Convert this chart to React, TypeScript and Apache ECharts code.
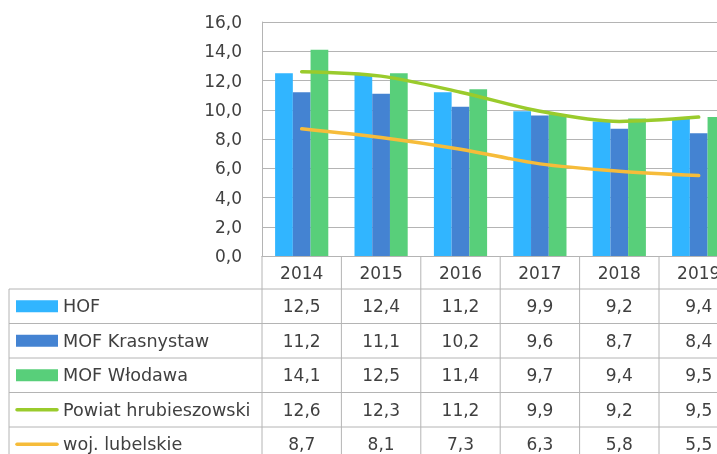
import React, { useEffect, useRef } from "react";
import * as echarts from "echarts";

const years = ["2014", "2015", "2016", "2017", "2018", "2019"];
const hof = [12.5, 12.4, 11.2, 9.9, 9.2, 9.4];
const mofKrasnystaw = [11.2, 11.1, 10.2, 9.6, 8.7, 8.4];
const mofWlodawa = [14.1, 12.5, 11.4, 9.7, 9.4, 9.5];
const powiatHrubieszowski = [12.6, 12.3, 11.2, 9.9, 9.2, 9.5];
const wojLubelskie = [8.7, 8.1, 7.3, 6.3, 5.8, 5.5];

const seriesNames = ["HOF", "MOF Krasnystaw", "MOF Włodawa", "Powiat hrubieszowski", "woj. lubelskie"];
const seriesData = [hof, mofKrasnystaw, mofWlodawa, powiatHrubieszowski, wojLubelskie];
const seriesKinds = ["bar", "bar", "bar", "line", "line"];
const colors = ["#31B5FF", "#4483D2", "#58CF7A", "#9ACB2C", "#F6BC3A"];

const FONT = "DejaVu Sans";
const TEXT = "#404040";
const GRID_C = "#B4B4B4";

const fmt = (v: number) => v.toFixed(1).replace(".", ",");

export default function App() {
  const ref = useRef<HTMLDivElement>(null);
  useEffect(() => {
    if (!ref.current) return;
    const chart = echarts.init(ref.current, null, { renderer: "svg" });
    const gridTop = 22;
    const gridH = 234;
    const gridLeft = 262;
    const catW = 79.4;
    chart.setOption({
      animation: false,
      grid: { left: gridLeft, top: gridTop, width: catW * years.length, height: gridH, containLabel: false },
      xAxis: {
        type: "category",
        data: years,
        axisLine: { show: true, lineStyle: { color: GRID_C, width: 1 } },
        axisTick: { show: false },
        axisLabel: { color: TEXT, fontFamily: FONT, fontSize: 17, margin: 8 },
      },
      yAxis: {
        type: "value",
        min: 0,
        max: 16,
        interval: 2,
        axisLine: { show: true, lineStyle: { color: GRID_C, width: 1 } },
        axisTick: { show: false },
        axisLabel: { color: TEXT, fontFamily: FONT, fontSize: 17, margin: 20, formatter: (v: number) => fmt(v) },
        splitLine: { show: true, lineStyle: { color: GRID_C, width: 1 } },
      },
      series: seriesNames.map((name, i) =>
        seriesKinds[i] === "bar"
          ? {
              name,
              type: "bar",
              data: seriesData[i],
              barGap: "0%",
              barCategoryGap: "33%",
              itemStyle: { color: colors[i] },
            }
          : {
              name,
              type: "line",
              data: seriesData[i],
              smooth: 0.3,
              showSymbol: false,
              lineStyle: { color: colors[i], width: 3.5, cap: "round" },
              itemStyle: { color: colors[i] },
              z: 5,
            }
      ),
    });

    // Data table below the chart
    const centers = years.map((_, i) => chart.convertToPixel({ xAxisIndex: 0 }, i) as number);
    const half = (centers[1] - centers[0]) / 2;
    const bounds = [centers[0] - half, ...centers.map((c) => c + half)];
    const axisY = chart.convertToPixel({ yAxisIndex: 0 }, 0) as number;
    const headerBottom = axisY + 33;
    const rowH = 34.5;
    const bottom = 460;
    const rightEdge = 800;
    const tableLeft = 9;
    const lineStyle = { stroke: GRID_C, lineWidth: 1 };
    const g: any[] = [];
    for (let r = 0; r <= seriesNames.length; r++) {
      const y = headerBottom + r * rowH;
      g.push({ type: "line", shape: { x1: tableLeft, y1: y, x2: rightEdge, y2: y }, style: lineStyle, silent: true });
    }
    g.push({ type: "line", shape: { x1: tableLeft, y1: headerBottom, x2: tableLeft, y2: bottom }, style: lineStyle });
    bounds.forEach((x) => {
      g.push({ type: "line", shape: { x1: x, y1: axisY, x2: x, y2: bottom }, style: lineStyle });
    });
    seriesNames.forEach((name, i) => {
      const cy = headerBottom + i * rowH + rowH / 2;
      if (seriesKinds[i] === "bar") {
        g.push({ type: "rect", shape: { x: 16, y: cy - 6, width: 42, height: 12 }, style: { fill: colors[i] } });
      } else {
        g.push({
          type: "line",
          shape: { x1: 17, y1: cy, x2: 57, y2: cy },
          style: { stroke: colors[i], lineWidth: 3.5, lineCap: "round" },
        });
      }
      g.push({
        type: "text",
        x: 63,
        y: cy,
        style: { text: name, fill: TEXT, font: `17.6px "${FONT}"`, textAlign: "left", textVerticalAlign: "middle" },
      });
      seriesData[i].forEach((v, j) => {
        g.push({
          type: "text",
          x: centers[j],
          y: cy,
          style: { text: fmt(v), fill: TEXT, font: `17px "${FONT}"`, textAlign: "center", textVerticalAlign: "middle" },
        });
      });
    });
    chart.setOption({ graphic: g });

    return () => chart.dispose();
  }, []);
  return (
    <div style={{ position: "fixed", left: 0, top: 0, width: 717, height: 454, overflow: "hidden" }}>
      <div ref={ref} style={{ position: "absolute", left: 0, top: 0, width: 760, height: 454 }} />
    </div>
  );
}
